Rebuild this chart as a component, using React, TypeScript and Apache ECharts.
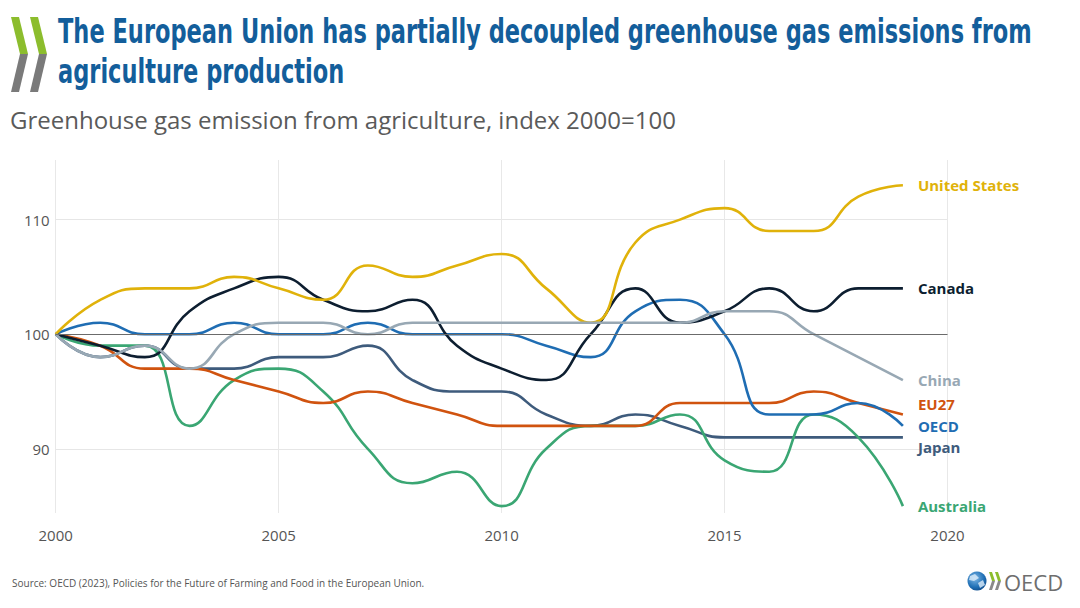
import React, { useEffect, useRef } from "react";
import * as echarts from "echarts";

const years = [2000, 2001, 2002, 2003, 2004, 2005, 2006, 2007, 2008, 2009, 2010, 2011, 2012, 2013, 2014, 2015, 2016, 2017, 2018, 2019];
const unitedStates = [100, 103, 104, 104, 105, 104, 103, 106, 105, 106, 107, 104, 101, 108, 110, 111, 109, 109, 112, 113];
const canada = [100, 99, 98, 102, 104, 105, 103, 102, 103, 99, 97, 96, 100, 104, 101, 102, 104, 102, 104, 104];
const oecd = [100, 101, 100, 100, 101, 100, 100, 101, 100, 100, 100, 99, 98, 102, 103, 100, 93, 93, 94, 92];
const china = [100, 98, 99, 97, 100, 101, 101, 100, 101, 101, 101, 101, 101, 101, 101, 102, 102, 100, 98, 96];
const eu27 = [100, 99, 97, 97, 96, 95, 94, 95, 94, 93, 92, 92, 92, 92, 94, 94, 94, 95, 94, 93];
const japan = [100, 98, 99, 97, 97, 98, 98, 99, 96, 95, 95, 93, 92, 93, 92, 91, 91, 91, 91, 91];
const australia = [100, 99, 99, 92, 96, 97, 95, 90, 87, 88, 85, 90, 92, 92, 93, 89, 88, 93, 91, 85];
const yTickLabels = [90, 100, 110];
const xTickLabels = [2000, 2005, 2010, 2015, 2020];
const baselineValue = 100;

const TITLE1 = "The European Union has partially decoupled greenhouse gas emissions from";
const TITLE2 = "agriculture production";
const SUBTITLE = "Greenhouse gas emission from agriculture, index 2000=100";
const SOURCE = "Source: OECD (2023), Policies for the Future of Farming and Food in the European Union.";

const seriesDefs = [
  { name: "Japan", data: japan, color: "#3e5b7c", dy: 10 },
  { name: "Australia", data: australia, color: "#3aa673", dy: 0 },
  { name: "EU27", data: eu27, color: "#d0530f", dy: -10 },
  { name: "OECD", data: oecd, color: "#1f6db3", dy: 0 },
  { name: "Canada", data: canada, color: "#0d1e30", dy: 0 },
  { name: "United States", data: unitedStates, color: "#e0b20a", dy: 0 },
  { name: "China", data: china, color: "#98a8b4", dy: 0 },
];

function measure(text: string, font: string): number {
  const c = document.createElement("canvas").getContext("2d");
  if (!c) return 1;
  c.font = font;
  return c.measureText(text).width || 1;
}

export default function App() {
  const ref = useRef<HTMLDivElement>(null);
  useEffect(() => {
    if (!ref.current) return;
    const chart = echarts.init(ref.current, undefined, { renderer: "svg" });
    const titleFont = 'bold 34px "DejaVu Sans Condensed", "DejaVu Sans", sans-serif';
    const titleScale = 974 / measure(TITLE1, titleFont);

    const series: any[] = [
      {
        type: "line",
        name: "grid",
        data: [],
        silent: true,
        markLine: {
          silent: true,
          symbol: "none",
          label: { show: false },
          animation: false,
          data: [{ yAxis: baselineValue, lineStyle: { color: "#6b6b6b", width: 1, type: "solid" } }],
        },
      },
      ...seriesDefs.map((s) => ({
        type: "line",
        name: s.name,
        data: years.map((y, i) => [y, s.data[i]]),
        smooth: 0.5,
        showSymbol: false,
        symbol: "none",
        lineStyle: { color: s.color, width: 2.6 },
        itemStyle: { color: s.color },
        emphasis: { disabled: true },
        endLabel: {
          show: true,
          formatter: "{a}",
          color: s.color,
          fontFamily: "Open Sans",
          fontSize: 15,
          fontWeight: "bold",
          distance: 15,
          offset: [0, s.dy],
        },
      })),
    ];

    chart.setOption({
      animation: false,
      grid: { left: 55.7, right: 132.5, top: 160, bottom: 95, containLabel: false },
      xAxis: {
        type: "value",
        min: 2000,
        max: 2020,
        interval: 5,
        axisLine: { show: false },
        axisTick: { show: false },
        splitLine: { show: true, lineStyle: { color: "#e8e8e8", width: 1 } },
        axisLabel: {
          color: "#555555",
          fontFamily: "Open Sans",
          fontSize: 15,
          margin: 14,
          formatter: (v: number) => (xTickLabels.includes(v) ? String(v) : ""),
        },
      },
      yAxis: {
        type: "value",
        min: 84.4,
        max: 115.2,
        axisLine: { show: false },
        axisTick: { show: false, customValues: yTickLabels },
        splitLine: { show: true, lineStyle: { color: "#e6e6e6", width: 1 } },
        axisLabel: {
          customValues: yTickLabels,
          color: "#555555",
          fontFamily: "Open Sans",
          fontSize: 15,
          margin: 6,
        },
      },
      series,
      graphic: [
        // OECD chevrons top-left
        { type: "polygon", shape: { points: [[11, 17], [19, 17], [28, 54], [20, 54]] }, style: { fill: "#8cbd2d" } },
        { type: "polygon", shape: { points: [[20, 54], [28, 54], [19, 92], [11, 92]] }, style: { fill: "#7a7a7a" } },
        { type: "polygon", shape: { points: [[30, 17], [38, 17], [47, 54], [39, 54]] }, style: { fill: "#8cbd2d" } },
        { type: "polygon", shape: { points: [[39, 54], [47, 54], [38, 92], [30, 92]] }, style: { fill: "#7a7a7a" } },
        {
          type: "text",
          x: 58,
          y: 31,
          scaleX: titleScale,
          style: { text: TITLE1, font: titleFont, fill: "#135e9b", verticalAlign: "middle" },
        },
        {
          type: "text",
          x: 58,
          y: 71,
          scaleX: titleScale,
          style: { text: TITLE2, font: titleFont, fill: "#135e9b", verticalAlign: "middle" },
        },
        {
          type: "text",
          x: 10,
          y: 119,
          style: { text: SUBTITLE, fontFamily: "Open Sans", fontSize: 24, fill: "#5a5a5a", verticalAlign: "middle" },
        },
        {
          type: "text",
          x: 12,
          y: 583,
          style: { text: SOURCE, fontFamily: "Open Sans", fontSize: 10, fill: "#555555", verticalAlign: "middle" },
        },
        // OECD logo bottom-right
        {
          type: "circle",
          shape: { cx: 977, cy: 581, r: 9.5 },
          style: {
            fill: new echarts.graphic.RadialGradient(0.4, 0.35, 0.8, [
              { offset: 0, color: "#7fb8e6" },
              { offset: 0.6, color: "#1f6fb5" },
              { offset: 1, color: "#0d3f7a" },
            ]),
          },
        },
        { type: "polygon", shape: { points: [[970, 576], [975, 574], [979, 578], [974, 581], [969, 580]] }, style: { fill: "#dfeefa", opacity: 0.8 } },
        { type: "polygon", shape: { points: [[978, 583], [983, 580], [985, 585], [980, 588]] }, style: { fill: "#dfeefa", opacity: 0.8 } },
        { type: "polygon", shape: { points: [[989, 572], [992, 572], [995, 581], [992, 581]] }, style: { fill: "#8cbd2d" } },
        { type: "polygon", shape: { points: [[992, 581], [995, 581], [992, 590], [989, 590]] }, style: { fill: "#8a8a8a" } },
        { type: "polygon", shape: { points: [[995, 572], [998, 572], [1001, 581], [998, 581]] }, style: { fill: "#8cbd2d" } },
        { type: "polygon", shape: { points: [[998, 581], [1001, 581], [998, 590], [995, 590]] }, style: { fill: "#8a8a8a" } },
        {
          type: "text",
          x: 1004,
          y: 582,
          style: { text: "OECD", fontFamily: "Open Sans", fontSize: 22, fill: "#6e6e6e", verticalAlign: "middle" },
        },
      ],
    });
    return () => chart.dispose();
  }, []);
  return <div ref={ref} style={{ width: 1080, height: 608, position: "absolute", left: 0, top: 0, background: "#fff" }} />;
}
